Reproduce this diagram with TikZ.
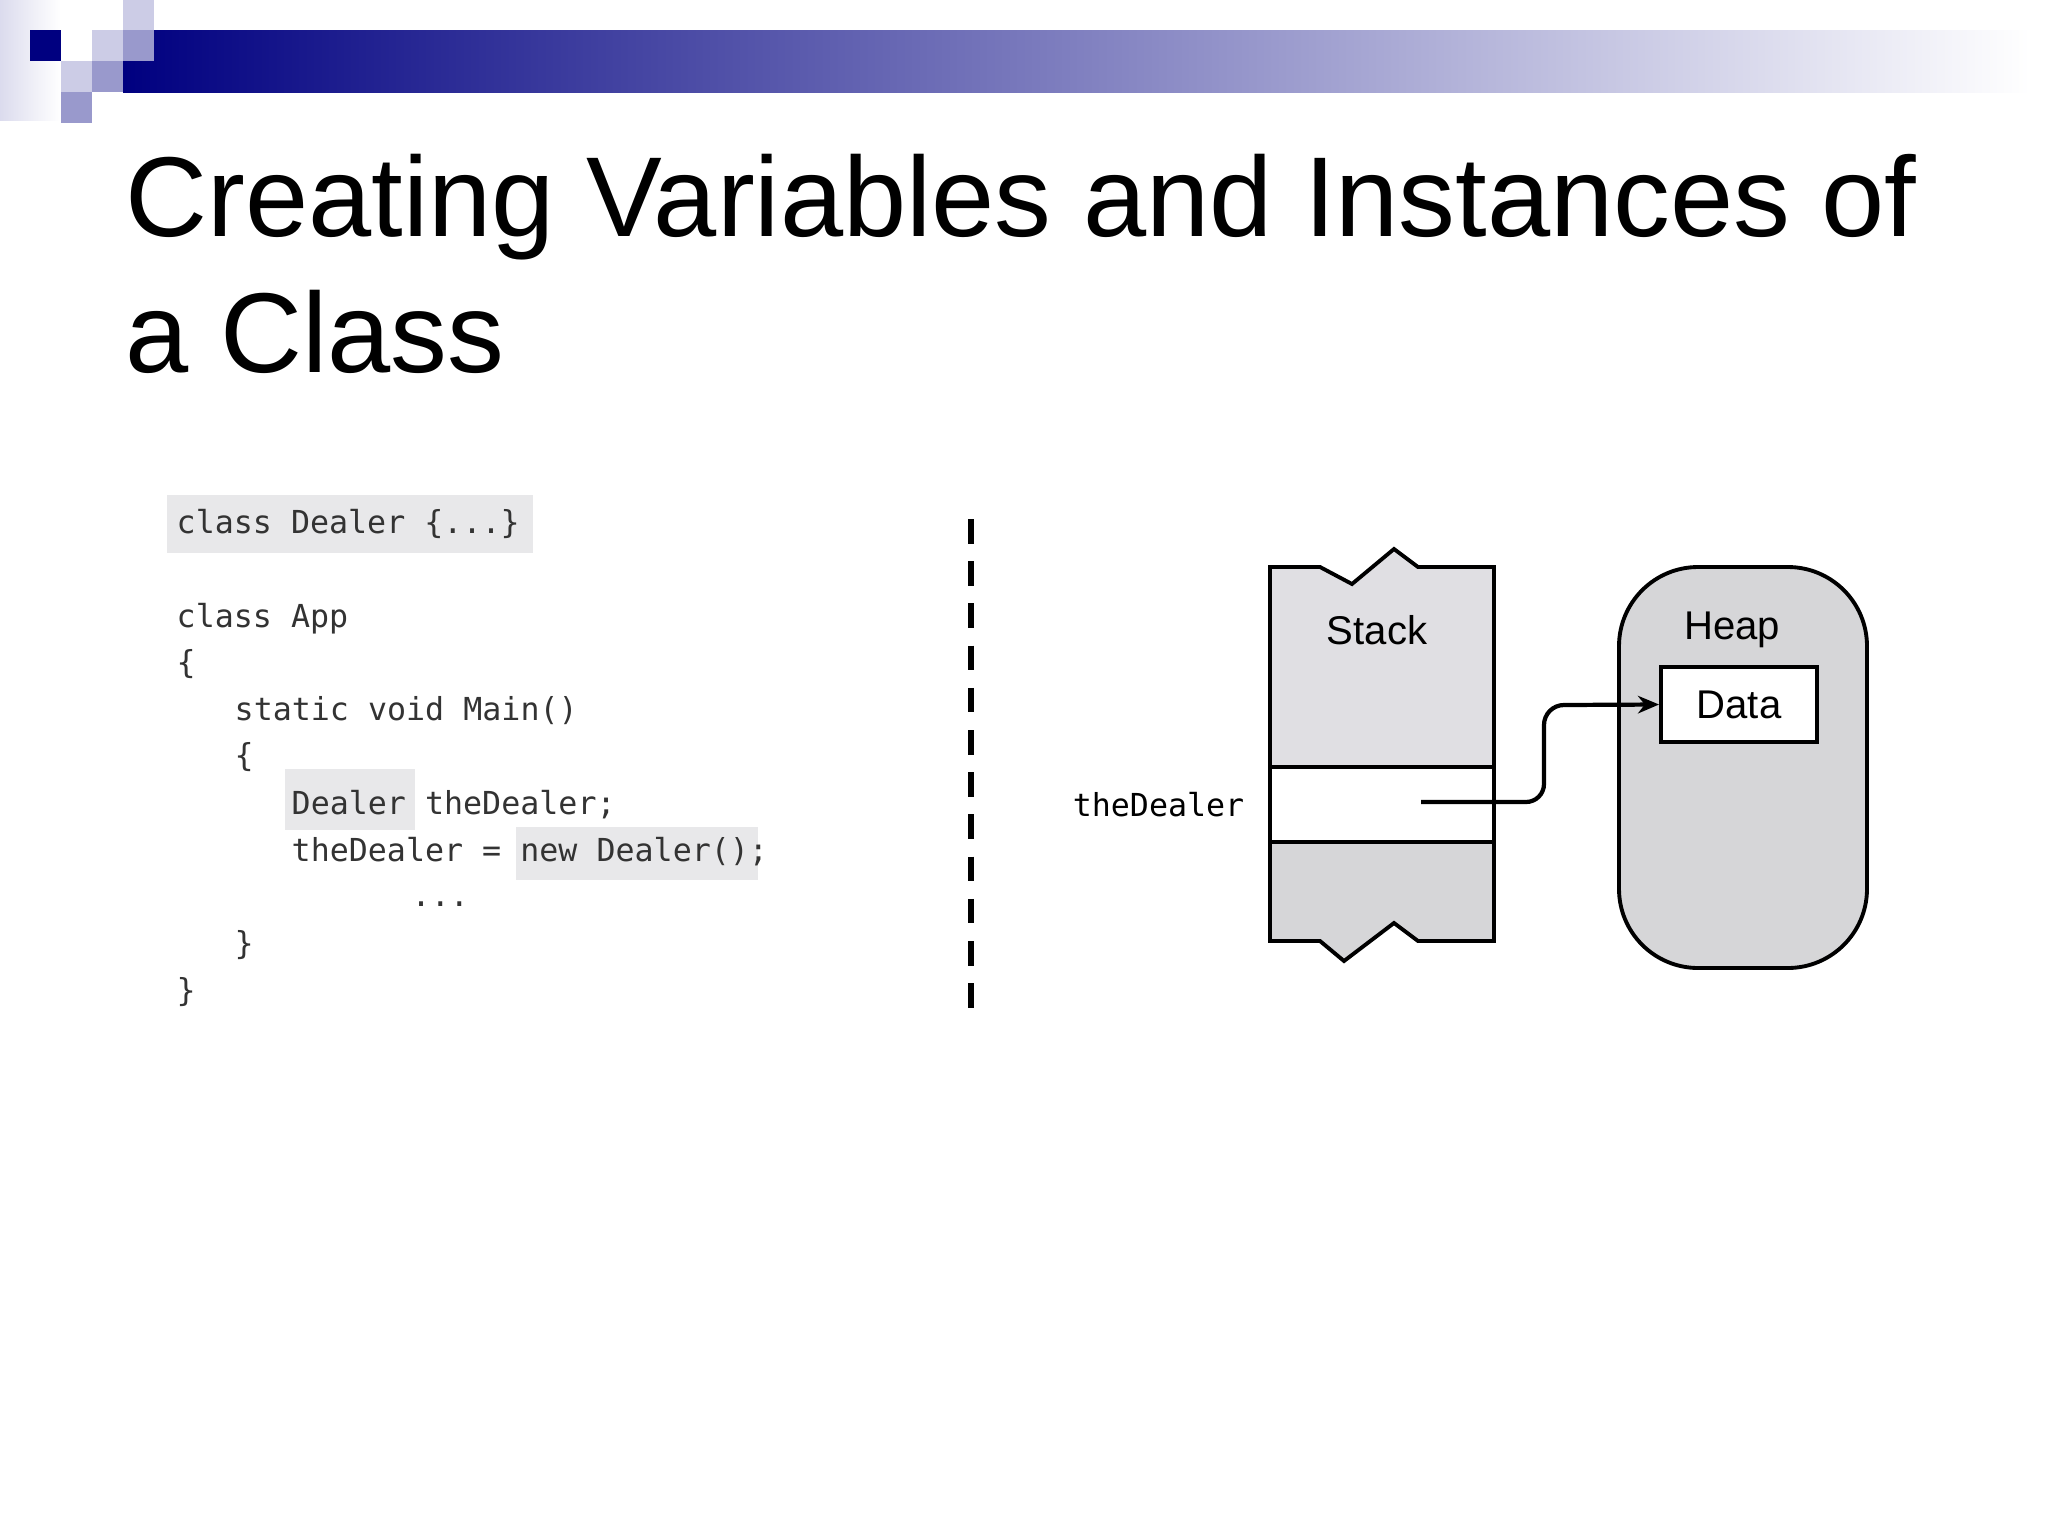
\documentclass[tikz,border=0pt]{standalone}
\usepackage{fontspec}
\setmainfont{Liberation Sans}
\setmonofont{DejaVu Sans Mono}
\usetikzlibrary{arrows.meta}
\definecolor{navy}{HTML}{000080}
\definecolor{lav}{HTML}{CCCCE6}
\definecolor{mid}{HTML}{9999CC}
\definecolor{hl}{HTML}{E8E8EA}
\definecolor{codec}{HTML}{333333}
\definecolor{stk}{HTML}{E0DFE3}
\definecolor{stkb}{HTML}{D6D6D8}
\tikzset{
 code/.style={anchor=base west,inner sep=0pt,text=codec,font=\ttfamily\fontsize{9}{11}\selectfont},
 lbl/.style={inner sep=0pt,font=\fontsize{11.4}{14}\selectfont},
 box/.style={draw=black,line width=1.1pt}
}
\begin{document}
\begin{tikzpicture}[x=0.01cm,y=-0.01cm]
\useasboundingbox (0,0) rectangle (2048,1536);
\fill[white] (0,0) rectangle (2048,1536);
% header
\shade[left color=lav!70,right color=white] (0,0) rectangle (60,120);
\shade[left color=navy,right color=white] (123,30) rectangle (2030,92);
\fill[navy] (30,30) rectangle (61,61);
\fill[lav] (61,61) rectangle (92,92);
\fill[lav] (92,30) rectangle (123,61);
\fill[lav] (123,0) rectangle (154,30);
\fill[mid] (123,30) rectangle (154,61);
\fill[mid] (92,61) rectangle (123,92);
\fill[mid] (61,92) rectangle (123,123);
\fill[white] (92,92) rectangle (123,123);
% title
\node[anchor=base west,inner sep=0pt,font=\fontsize{32.3}{40}\selectfont] (t1) at (125,236) {Creating Variables and Instances of};
\node[anchor=base west,inner sep=0pt,font=\fontsize{32.3}{40}\selectfont] (t2) at (125,372) {a Class};
% code highlights
\fill[hl] (167,495) rectangle (533,553);
\fill[hl] (285,769) rectangle (415,830);
\fill[hl] (516,827) rectangle (758,880);
\node[code] (c1) at (176,533) {class Dealer \{...\}};
\node[code] (c2) at (176,627) {class App};
\node[code] (c3) at (176,673) {\{};
\node[code] (c4) at (234,720) {static void Main()};
\node[code] (c5) at (234,766) {\{};
\node[code] (c6) at (291,814) {Dealer theDealer;};
\node[code] (c7) at (291,861) {theDealer = new Dealer();};
\node[code] (c8) at (411,906) {...};
\node[code] (c9) at (234,954) {\}};
\node[code] (c10) at (176,1001) {\}};
% divider
\draw[line width=1.6pt,dash pattern=on 7pt off 5pt] (971,519) -- (971,1017);
% stack
\fill[stk] (1270,567) -- (1320,567) -- (1352,584) -- (1394,549) -- (1418,567) -- (1494,567) -- (1494,767) -- (1270,767) -- cycle;
\fill[white] (1270,767) rectangle (1494,842);
\fill[stkb] (1270,842) -- (1494,842) -- (1494,941) -- (1418,941) -- (1394,923) -- (1344,961) -- (1320,941) -- (1270,941) -- cycle;
\draw[box] (1270,567) -- (1320,567) -- (1352,584) -- (1394,549) -- (1418,567) -- (1494,567) -- (1494,941) -- (1418,941) -- (1394,923) -- (1344,961) -- (1320,941) -- (1270,941) -- cycle;
\draw[box] (1270,767) -- (1494,767);
\draw[box] (1270,842) -- (1494,842);
\node[lbl] (stack) at (1377,630) {Stack};
\node[code,anchor=east,text=black] (td) at (1245,805) {theDealer};
% heap
\draw[box,fill=stkb,rounded corners=22.5pt] (1619,567) rectangle (1867,968);
\node[lbl] (heap) at (1732,630) {Heap};
\node[box,fill=white,minimum width=156*0.2845pt,minimum height=75*0.2845pt,inner sep=0pt,font=\fontsize{11.4}{14}\selectfont] (data) at (1739,704.5) {Data};
\coordinate (src) at (1421,802);
\draw[line width=1.2pt,-{Stealth[length=6pt,width=5pt]}] (src) -- (1526,802) to[out=0,in=-90] (1544,784) -- (1544,725) to[out=90,in=180] (1564,705) -- (data.west);
\end{tikzpicture}
\end{document}
